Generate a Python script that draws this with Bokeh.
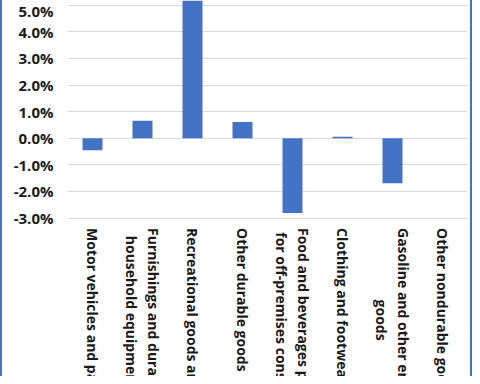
import math
from bokeh.plotting import figure
from bokeh.models import ColumnDataSource, FixedTicker, PrintfTickFormatter
from bokeh.core.properties import value
from bokeh.embed import file_html
from bokeh.resources import INLINE

categories = [
    "Motor vehicles and parts",
    "Furnishings and durable\nhousehold equipment",
    "Recreational goods and vehicles",
    "Other durable goods",
    "Food and beverages purchased\nfor off-premises consumption",
    "Clothing and footwear",
    "Gasoline and other energy\ngoods",
    "Other nondurable goods",
]
values = [-0.45, 0.66, 6.0, 0.61, -2.81, 0.06, -1.69, 0.0]
y_ticks = [-3, -2, -1, 0, 1, 2, 3, 4, 5]
# visible window of the value axis (the category labels live below -3%)
view_top = 5.18
view_bottom = -8.96

label_y = [y_ticks[0]] * len(categories)
src = ColumnDataSource(dict(cat=categories, val=values, ly=label_y))

p = figure(
    x_range=categories, y_range=(view_bottom, view_top),
    width=472, height=376,
    output_backend="svg", toolbar_location=None,
    min_border_left=65, min_border_right=7, min_border_top=0, min_border_bottom=0,
)
p.styles = {"border-left": "2px solid #4472C4", "border-right": "2px solid #4472C4"}
p.outline_line_color = None
p.background_fill_color = "white"
p.border_fill_color = "white"

p.vbar(x="cat", top="val", width=0.4, source=src,
       fill_color="#4472C4", line_color=None)

p.xaxis.visible = False
p.xgrid.visible = False
p.ygrid.ticker = FixedTicker(ticks=y_ticks)
p.ygrid.grid_line_color = "#D9D9D9"
p.ygrid.grid_line_width = 1

ya = p.yaxis[0]
ya.ticker = FixedTicker(ticks=y_ticks)
ya.formatter = PrintfTickFormatter(format="%.1f%%")
ya.axis_line_color = None
ya.major_tick_line_color = None
ya.minor_tick_line_color = None
ya.major_tick_out = 0
ya.major_tick_in = 0
ya.major_label_standoff = 14
ya.major_label_text_font = "Open Sans"
ya.major_label_text_font_style = "bold"
ya.major_label_text_font_size = "15px"
ya.major_label_text_color = "#1A1A1A"

p.text(
    x="cat", y="ly", text="cat", source=src,
    angle=-math.pi / 2, anchor="center_left", text_align="center",
    y_offset=10,
    text_font=value("Open Sans"), text_font_style="bold", text_font_size="14px",
    text_line_height=1.2, text_color="#1A1A1A",
)

open("out.html", "w").write(file_html(p, INLINE))
